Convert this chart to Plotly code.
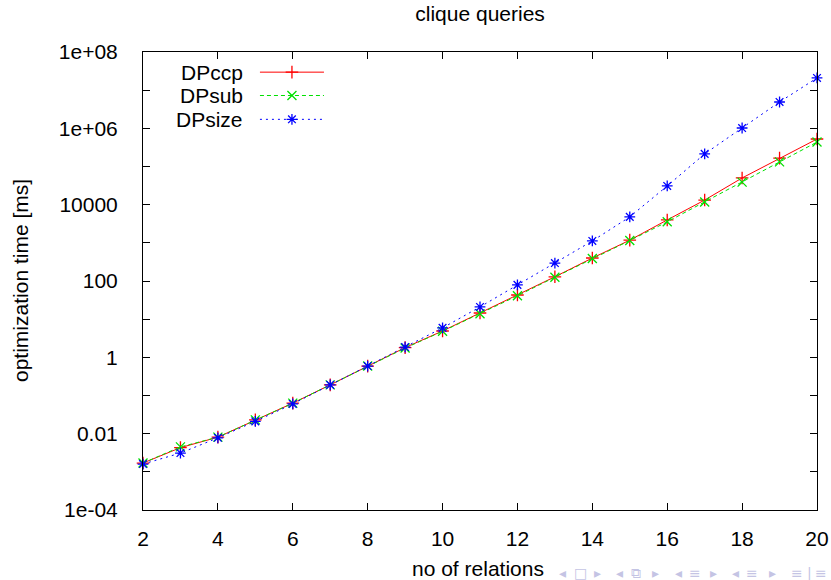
import plotly.graph_objects as go

relations = list(range(2, 21))
dpccp = [0.0017, 0.0043, 0.0081, 0.023, 0.063, 0.19, 0.59, 1.8, 4.9, 14.5, 43, 129,
         400, 1175, 3980, 13200, 50100, 166000, 525000]
dpsub = [0.0017, 0.0045, 0.0081, 0.023, 0.063, 0.19, 0.59, 1.75, 4.8, 13.8, 41, 126,
         390, 1150, 3550, 11700, 38900, 132000, 437000]
dpsize = [0.0016, 0.0031, 0.0078, 0.021, 0.060, 0.19, 0.59, 1.86, 5.9, 20.9, 79, 295,
          1120, 4790, 30900, 214000, 1020000, 4900000, 20900000]

series_names = ["DPccp", "DPsub", "DPsize"]
colors = ["#ff0000", "#00e000", "#0000ff"]
dashes = ["solid", "4px,3px", "2px,4px"]
symbols = ["cross-thin-open", "x-thin-open", "asterisk-open"]

ytick_vals = [10.0 ** e for e in range(-4, 9)]
ytick_text = ["1e-04", "", "0.01", "", "1", "", "100", "", "10000", "", "1e+06", "", "1e+08"]
xtick_vals = list(range(2, 21, 2))

FONT = "Liberation Sans, Arial, Helvetica, sans-serif"
FS = 21

fig = go.Figure()
for name, ys, c, d, s in zip(series_names, [dpccp, dpsub, dpsize], colors, dashes, symbols):
    fig.add_trace(go.Scatter(
        x=relations, y=ys, mode="lines+markers", name=name, showlegend=False,
        cliponaxis=False,
        line=dict(color=c, width=1, dash=d),
        marker=dict(symbol=s, size=9, color=c, line=dict(color=c, width=1.3)),
    ))

# custom gnuplot-style legend (text right-aligned, sample to the right)
legend_y = [0.956, 0.905, 0.853]
for name, c, d, s, ly in zip(series_names, colors, dashes, symbols, legend_y):
    fig.add_trace(go.Scatter(
        x=[0.1735, 0.2685], y=[ly, ly], xaxis="x2", yaxis="y2",
        mode="lines", showlegend=False, hoverinfo="skip",
        line=dict(color=c, width=1, dash=d),
    ))
    fig.add_trace(go.Scatter(
        x=[0.221], y=[ly], xaxis="x2", yaxis="y2", mode="markers",
        showlegend=False, hoverinfo="skip",
        marker=dict(symbol=s, size=9, color=c, line=dict(color=c, width=1.3)),
    ))
    fig.add_annotation(x=0.152, y=ly, xref="x2", yref="y2", text=name,
                       showarrow=False, xanchor="right", yanchor="middle",
                       font=dict(family=FONT, size=FS, color="black"))

fig.update_layout(
    width=831, height=580,
    margin=dict(l=143, r=14, t=52, b=70, autoexpand=False),
    paper_bgcolor="white", plot_bgcolor="white",
    font=dict(family=FONT, size=FS, color="black"),
    title=dict(text="clique queries", x=0.5777, xanchor="center", y=0.977,
               yanchor="middle", font=dict(family=FONT, size=FS, color="black")),
    xaxis=dict(range=[2, 20], tickvals=xtick_vals, ticks="inside", ticklen=7,
               tickcolor="black", showline=True, linecolor="black", linewidth=1,
               mirror="ticks", showgrid=False, zeroline=False, automargin=False,
               tickfont=dict(family=FONT, size=FS), ticklabelstandoff=10),
    yaxis=dict(type="log", range=[-4, 8], tickvals=ytick_vals, ticktext=ytick_text,
               ticks="inside", ticklen=7, tickcolor="black", showline=True,
               linecolor="black", linewidth=1, mirror="ticks", showgrid=False,
               zeroline=False, automargin=False, tickfont=dict(family=FONT, size=FS),
               ticklabelstandoff=20),
    xaxis2=dict(range=[0, 1], overlaying="x", visible=False, fixedrange=True),
    yaxis2=dict(range=[0, 1], overlaying="y", visible=False, fixedrange=True),
)

# axis titles
fig.add_annotation(x=(478 - 143) / 674, y=-(568 - 510) / 458, xref="paper", yref="paper",
                   xanchor="center", yanchor="middle", showarrow=False,
                   text="no of relations", font=dict(family=FONT, size=FS))
fig.add_annotation(x=-(143 - 20) / 674, y=0.5, xref="paper", yref="paper",
                   xanchor="center", yanchor="middle", showarrow=False, textangle=-90,
                   text="optimization time [ms]", font=dict(family=FONT, size=FS))

# beamer navigation symbols (decoration)
nav_glyphs = ["◂", "□", "▸", "◂", "⧉", "▸", "◂", "≡", "▸", "◂", "≡", "▸", "≡", "|", "≡"]
nav_px = [562, 580, 597, 619, 636, 655, 678, 695, 713, 735, 752, 772, 797, 809, 821]
for g, px in zip(nav_glyphs, nav_px):
    fig.add_annotation(x=(px - 143) / 674, y=-(573 - 510) / 458, xref="paper", yref="paper",
                       xanchor="center", yanchor="middle", showarrow=False, text=g,
                       font=dict(family="DejaVu Sans", size=14, color="#c4c4e4"))

fig.write_html("out.html")
